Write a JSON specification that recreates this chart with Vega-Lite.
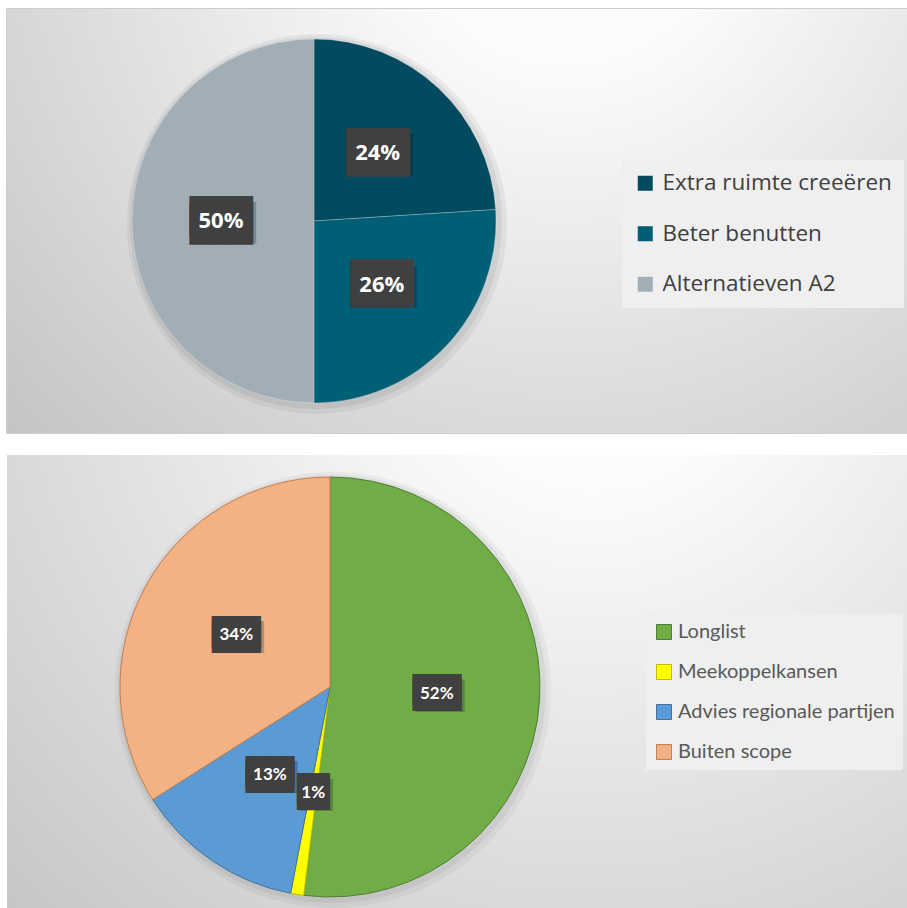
{
  "$schema": "https://vega.github.io/schema/vega-lite/v6.json",
  "padding": {"left": 6, "top": 8, "right": 0, "bottom": 0},
  "background": "#ffffff",
  "spacing": 21,
  "resolve": {
    "scale": {"color": "independent", "stroke": "independent", "theta": "independent"},
    "legend": {"color": "independent", "stroke": "independent"}
  },
  "datasets": {
    "one": [{"k": 1}],
    "top": [
      {"cat": "Extra ruimte creeëren", "v": 24, "lbl": "24%", "o": 1},
      {"cat": "Beter benutten", "v": 26, "lbl": "26%", "o": 2},
      {"cat": "Alternatieven A2", "v": 50, "lbl": "50%", "o": 3}
    ],
    "bottom": [
      {"cat": "Longlist", "v": 52, "lbl": "52%", "o": 1},
      {"cat": "Meekoppelkansen", "v": 1, "lbl": "1%", "o": 2},
      {"cat": "Advies regionale partijen", "v": 13, "lbl": "13%", "o": 3},
      {"cat": "Buiten scope", "v": 34, "lbl": "34%", "o": 4}
    ]
  },
  "config": {"font": "Open Sans"},
  "vconcat": [
    {
      "width": 901,
      "height": 424,
      "view": {"stroke": "#bdbdbd", "strokeWidth": 1.5},
      "layer": [
        {
          "data": {"name": "one"},
          "mark": {"type": "rect", "color": {"gradient": "radial", "x1": 0.62, "y1": 0.15, "r1": 0, "x2": 0.62, "y2": 0.15, "r2": 0.9, "stops": [{"offset": 0, "color": "#ffffff"}, {"offset": 0.2, "color": "#fbfbfb"}, {"offset": 1, "color": "#c0c0c0"}]}},
          "encoding": {}
        },
        {
          "data": {"name": "one"},
          "mark": {"type": "arc", "x": 310, "y": 215, "outerRadius": 190, "color": "#000000", "opacity": 0.05},
          "encoding": {}
        },
        {
          "data": {"name": "one"},
          "mark": {"type": "arc", "x": 309, "y": 214, "outerRadius": 186, "color": "#000000", "opacity": 0.06},
          "encoding": {}
        },
        {
          "data": {"name": "top"},
          "mark": {"type": "arc", "x": 307, "y": 212, "outerRadius": 182, "stroke": "#ffffff", "strokeWidth": 0.5, "strokeOpacity": 0.5},
          "encoding": {
            "theta": {"field": "v", "type": "quantitative", "stack": true},
            "order": {"field": "o", "type": "quantitative"},
            "color": {
              "field": "cat", "type": "nominal",
              "scale": {"domain": ["Extra ruimte creeëren", "Beter benutten", "Alternatieven A2"], "range": ["#024a5f", "#005e75", "#a1aeb5"]},
              "legend": {
                "orient": "none", "legendX": 615, "legendY": 151, "title": null,
                "symbolType": "square", "symbolSize": 225, "symbolStrokeWidth": 0,
                "labelFont": "Open Sans", "labelFontSize": 22.5, "labelColor": "#404040", "labelLimit": 400,
                "labelOffset": 6, "rowPadding": 27.5, "padding": 12,
                "fillColor": "#efefef"
              }
            }
          }
        },
        {
          "data": {"name": "top"},
          "mark": {"type": "text", "x": 310, "y": 215, "radius": 93, "font": "DejaVu Sans Mono", "fontSize": 35, "color": "#000000", "opacity": 0.22, "align": "center", "baseline": "middle", "text": {"expr": "length(datum.lbl) > 2 ? '███' : '██'"}},
          "encoding": {
            "theta": {"field": "v", "type": "quantitative", "stack": true},
            "order": {"field": "o", "type": "quantitative"},
            "detail": {"field": "cat", "type": "nominal"}
          }
        },
        {
          "data": {"name": "top"},
          "mark": {"type": "text", "x": 307, "y": 212, "dy": -3.5, "radius": 93, "font": "DejaVu Sans Mono", "fontSize": 35, "color": "#404040", "align": "center", "baseline": "middle", "text": {"expr": "length(datum.lbl) > 2 ? '███' : '██'"}},
          "encoding": {
            "theta": {"field": "v", "type": "quantitative", "stack": true},
            "order": {"field": "o", "type": "quantitative"},
            "detail": {"field": "cat", "type": "nominal"}
          }
        },
        {
          "data": {"name": "top"},
          "mark": {"type": "text", "x": 307, "y": 212, "dy": 3.5, "radius": 93, "font": "DejaVu Sans Mono", "fontSize": 35, "color": "#404040", "align": "center", "baseline": "middle", "text": {"expr": "length(datum.lbl) > 2 ? '███' : '██'"}},
          "encoding": {
            "theta": {"field": "v", "type": "quantitative", "stack": true},
            "order": {"field": "o", "type": "quantitative"},
            "detail": {"field": "cat", "type": "nominal"}
          }
        },
        {
          "data": {"name": "top"},
          "mark": {"type": "text", "x": 307, "y": 212, "radius": 93, "font": "Open Sans", "fontSize": 22, "fontWeight": "bold", "color": "#ffffff", "align": "center", "baseline": "middle"},
          "encoding": {
            "theta": {"field": "v", "type": "quantitative", "stack": true},
            "order": {"field": "o", "type": "quantitative"},
            "detail": {"field": "cat", "type": "nominal"},
            "text": {"field": "lbl", "type": "nominal"}
          }
        }
      ]
    },
    {
      "width": 901,
      "height": 455,
      "view": {"stroke": null},
      "layer": [
        {
          "data": {"name": "one"},
          "mark": {"type": "rect", "color": {"gradient": "radial", "x1": 0.65, "y1": 0.1, "r1": 0, "x2": 0.65, "y2": 0.1, "r2": 0.95, "stops": [{"offset": 0, "color": "#ffffff"}, {"offset": 0.2, "color": "#fbfbfb"}, {"offset": 1, "color": "#c4c4c4"}]}},
          "encoding": {}
        },
        {
          "data": {"name": "one"},
          "mark": {"type": "arc", "x": 326, "y": 235, "outerRadius": 218, "color": "#000000", "opacity": 0.04},
          "encoding": {}
        },
        {
          "data": {"name": "one"},
          "mark": {"type": "arc", "x": 325, "y": 234, "outerRadius": 214, "color": "#000000", "opacity": 0.05},
          "encoding": {}
        },
        {
          "data": {"name": "bottom"},
          "mark": {"type": "arc", "x": 323, "y": 232, "outerRadius": 210, "strokeWidth": 1},
          "encoding": {
            "theta": {"field": "v", "type": "quantitative", "stack": true},
            "order": {"field": "o", "type": "quantitative"},
            "color": {
              "field": "cat", "type": "nominal",
              "scale": {"domain": ["Longlist", "Meekoppelkansen", "Advies regionale partijen", "Buiten scope"], "range": ["#70ad47", "#ffff00", "#5b9bd5", "#f4b183"]},
              "legend": {
                "orient": "none", "legendX": 639, "legendY": 159, "title": null,
                "symbolType": "square", "symbolSize": 225, "symbolStrokeWidth": 1,
                "labelFont": "Lato", "labelFontSize": 20, "labelColor": "#595959", "labelLimit": 400,
                "labelOffset": 4, "rowPadding": 20, "padding": 8,
                "fillColor": "#efefef"
              }
            },
            "stroke": {
              "field": "cat", "type": "nominal",
              "scale": {"domain": ["Longlist", "Meekoppelkansen", "Advies regionale partijen", "Buiten scope"], "range": ["#507e32", "#bfbf00", "#41719c", "#c5804f"]},
              "legend": null
            }
          }
        },
        {
          "data": {"name": "bottom"},
          "mark": {"type": "text", "x": 326, "y": 235, "radius": 107, "font": "DejaVu Sans Mono", "fontSize": 27, "color": "#000000", "opacity": 0.22, "align": "center", "baseline": "middle", "text": {"expr": "length(datum.lbl) > 2 ? '███' : '██'"}},
          "encoding": {
            "theta": {"field": "v", "type": "quantitative", "stack": true},
            "order": {"field": "o", "type": "quantitative"},
            "detail": {"field": "cat", "type": "nominal"}
          }
        },
        {
          "data": {"name": "bottom"},
          "mark": {"type": "text", "x": 323, "y": 232, "dy": -2.5, "radius": 107, "font": "DejaVu Sans Mono", "fontSize": 27, "color": "#404040", "align": "center", "baseline": "middle", "text": {"expr": "length(datum.lbl) > 2 ? '███' : '██'"}},
          "encoding": {
            "theta": {"field": "v", "type": "quantitative", "stack": true},
            "order": {"field": "o", "type": "quantitative"},
            "detail": {"field": "cat", "type": "nominal"}
          }
        },
        {
          "data": {"name": "bottom"},
          "mark": {"type": "text", "x": 323, "y": 232, "dy": 2.5, "radius": 107, "font": "DejaVu Sans Mono", "fontSize": 27, "color": "#404040", "align": "center", "baseline": "middle", "text": {"expr": "length(datum.lbl) > 2 ? '███' : '██'"}},
          "encoding": {
            "theta": {"field": "v", "type": "quantitative", "stack": true},
            "order": {"field": "o", "type": "quantitative"},
            "detail": {"field": "cat", "type": "nominal"}
          }
        },
        {
          "data": {"name": "bottom"},
          "mark": {"type": "text", "x": 323, "y": 232, "radius": 107, "font": "Lato", "fontSize": 17, "fontWeight": "bold", "color": "#ffffff", "align": "center", "baseline": "middle"},
          "encoding": {
            "theta": {"field": "v", "type": "quantitative", "stack": true},
            "order": {"field": "o", "type": "quantitative"},
            "detail": {"field": "cat", "type": "nominal"},
            "text": {"field": "lbl", "type": "nominal"}
          }
        }
      ]
    }
  ]
}
